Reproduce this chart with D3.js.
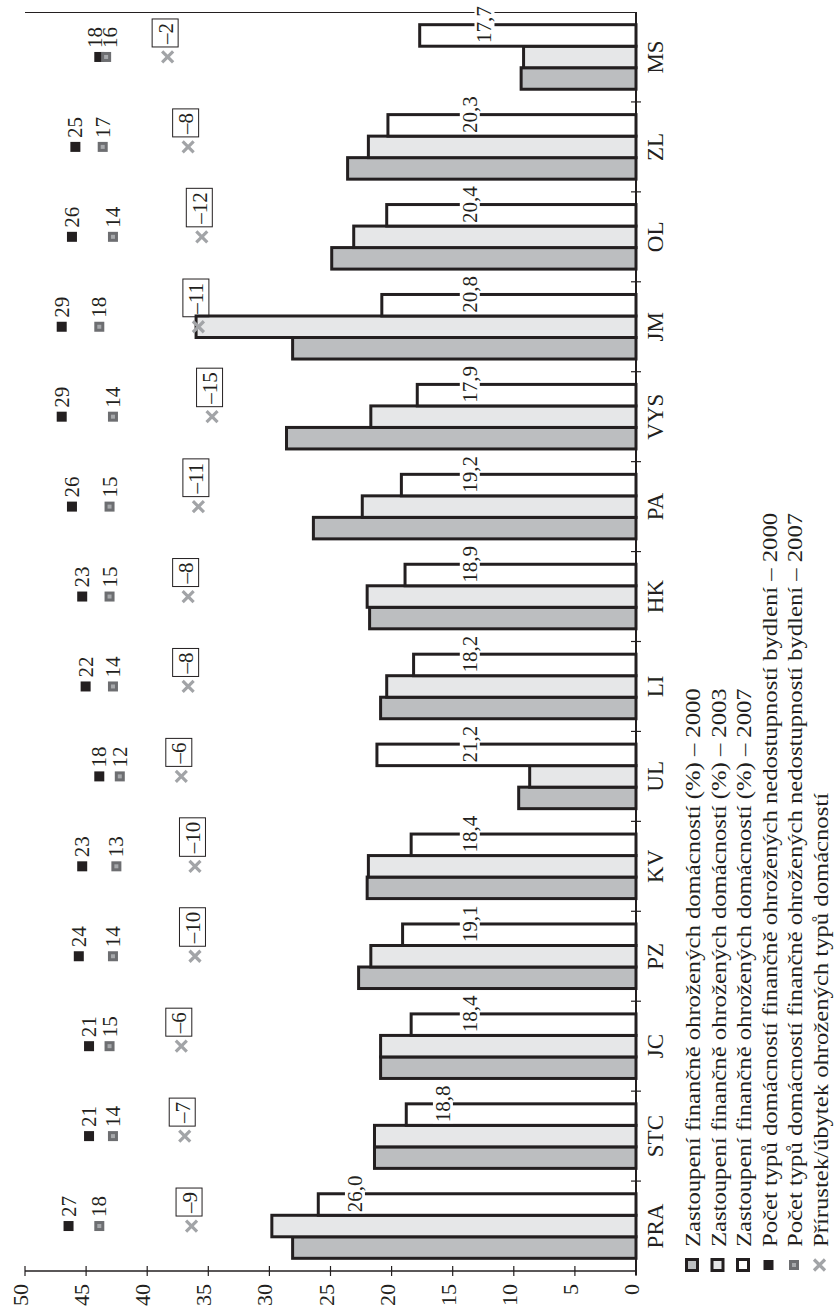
<!DOCTYPE html>
<html><head><meta charset="utf-8">
<script src="https://cdn.jsdelivr.net/npm/d3@7/dist/d3.min.js"></script>
<style>html,body{margin:0;padding:0;background:#fff;}svg{display:block;}</style>
</head><body>
<script>
const categories = ["PRA","STC","JC","PZ","KV","UL","LI","HK","PA","VYS","JM","OL","ZL","MS"];
const share2000 = [28.1,21.4,20.9,22.7,22.0,9.6,20.9,21.8,26.4,28.6,28.1,24.9,23.6,9.4];
const share2003 = [29.8,21.4,20.9,21.7,21.9,8.7,20.4,22.0,22.4,21.7,36.0,23.1,21.9,9.2];
const share2007 = [26.0,18.8,18.4,19.1,18.4,21.2,18.2,18.9,19.2,17.9,20.8,20.4,20.3,17.7];
const count2000 = [27,21,21,24,23,18,22,23,26,29,29,26,25,18];
const count2007 = [18,14,15,14,13,12,14,15,15,14,18,14,17,16];
const change = [-9,-7,-6,-10,-10,-6,-8,-8,-11,-15,-11,-12,-8,-2];
const valueTicks = [0,5,10,15,20,25,30,35,40,45,50];
const legendLabels = [
  "Zastoupení finančně ohrožených domácností (%) – 2000",
  "Zastoupení finančně ohrožených domácností (%) – 2003",
  "Zastoupení finančně ohrožených domácností (%) – 2007",
  "Počet typů domácností finančně ohrožených nedostupností bydlení – 2000",
  "Počet typů domácností finančně ohrožených nedostupností bydlení – 2007",
  "Přírustek/úbytek ohrožených typů domácností"
];

const W = 834, H = 1307;
const FONT = "'Liberation Serif', 'DejaVu Serif', serif";
const INK = "#231f20";
const C2000 = "#bcbec0", C2003 = "#e6e7e8", C2007 = "#ffffff";
const CSQ = "#6d6e71", CSQIN = "#a7a9ac", CX = "#a2a4a7";

const svg = d3.select("body").append("svg").attr("width", W).attr("height", H)
  .style("font-family", FONT);

const x = d3.scaleLinear().domain([0, 50]).range([636, 25]);
const y = d3.scaleBand().domain(categories).range([1271, 12]);
const bw = y.bandwidth();
const seriesKeys = ["s2000","s2003","s2007"];
const x1 = d3.scaleBand().domain(seriesKeys).range([bw, 0]).paddingOuter(0.59).paddingInner(0);
// secondary scale for counts / change (not drawn)
const xc = d3.scaleLinear().domain([0, 27]).range([160.8, 160.8 - 27 * 3.417]);

const rows = categories.map((c, i) => ({
  cat: c, s2000: share2000[i], s2003: share2003[i], s2007: share2007[i],
  c2000: count2000[i], c2007: count2007[i], ch: change[i]
}));
const fills = {s2000: C2000, s2003: C2003, s2007: C2007};
const fmt = v => v.toFixed(1).replace(".", ",");
const fmtInt = v => (v < 0 ? "–" + Math.abs(v) : String(v));

// top frame line
svg.append("line").attr("x1", x(50)).attr("x2", x(0)).attr("y1", 12.5).attr("y2", 12.5)
  .attr("stroke", INK).attr("stroke-width", 1.2);

// bars
const g = svg.append("g");
rows.forEach(r => {
  seriesKeys.forEach(k => {
    g.append("rect")
      .attr("x", x(r[k])).attr("width", x(0) - x(r[k]))
      .attr("y", y(r.cat) + x1(k)).attr("height", x1.bandwidth())
      .attr("fill", fills[k]).attr("stroke", INK).attr("stroke-width", 3);
  });
});

// 2007 value labels
const labelAt = {PRA: 23.0, STC: 15.8, MS: 12.4};
rows.forEach(r => {
  const lx = x(labelAt[r.cat] !== undefined ? labelAt[r.cat] : 13.6);
  const ly = y(r.cat) + x1("s2007");
  const lg = svg.append("g").attr("transform", `translate(${lx},${ly}) rotate(-90)`);
  const t = lg.append("text").attr("text-anchor", "middle").attr("y", 7)
    .attr("font-size", 21).attr("fill", INK).text(fmt(r.s2007));
  const bb = t.node().getBBox();
  lg.insert("rect", "text").attr("x", bb.x - 1).attr("width", bb.width + 2)
    .attr("y", -10).attr("height", 20).attr("fill", "#fff");
});

// axes lines
svg.append("line").attr("x1", x(0)).attr("x2", x(0)).attr("y1", 12).attr("y2", 1275)
  .attr("stroke", INK).attr("stroke-width", 2);
svg.append("line").attr("x1", x(50)).attr("x2", x(0)).attr("y1", 1271).attr("y2", 1271)
  .attr("stroke", INK).attr("stroke-width", 1.5);

// value ticks
valueTicks.forEach(v => {
  svg.append("line").attr("x1", x(v)).attr("x2", x(v)).attr("y1", 1266).attr("y2", 1276)
    .attr("stroke", INK).attr("stroke-width", 1.2);
  svg.append("text").attr("transform", `translate(${x(v) + 3},1284) rotate(-90)`)
    .attr("text-anchor", "end").attr("font-size", 22).attr("fill", INK).text(v);
});

// category ticks (band boundaries) and labels
categories.forEach((c, i) => {
  if (i === 0) return;
  const yy = y(c) + bw;
  svg.append("line").attr("x1", 631).attr("x2", 641).attr("y1", yy).attr("y2", yy)
    .attr("stroke", INK).attr("stroke-width", 1.2);
});
rows.forEach(r => {
  svg.append("text").attr("transform", `translate(663,${y(r.cat) + bw / 2}) rotate(-90)`)
    .attr("text-anchor", "middle").attr("font-size", 23).attr("fill", INK).text(r.cat);
});

// markers
function blackSq(sel, cx, cy) {
  sel.append("rect").attr("x", cx - 5).attr("y", cy - 5).attr("width", 10).attr("height", 10).attr("fill", INK);
}
function graySq(sel, cx, cy) {
  sel.append("rect").attr("x", cx - 5).attr("y", cy - 5).attr("width", 10).attr("height", 10).attr("fill", CSQ);
  sel.append("rect").attr("x", cx - 2).attr("y", cy - 2).attr("width", 4).attr("height", 4).attr("fill", CSQIN);
}
function cross(sel, cx, cy) {
  const s = 5.5;
  sel.append("path").attr("d", `M${cx - s},${cy - s}L${cx + s},${cy + s}M${cx - s},${cy + s}L${cx + s},${cy - s}`)
    .attr("stroke", CX).attr("stroke-width", 3.2).attr("fill", "none");
}

const nudge = {MS: [-4, 4]};
const mg = svg.append("g");
rows.forEach(r => {
  const cy = y(r.cat) + bw / 2;
  const bx = xc(r.c2000), gx = xc(r.c2007), cx = xc(r.ch);
  blackSq(mg, bx, cy);
  graySq(mg, gx, cy);
  cross(mg, cx, cy);
  const n = nudge[r.cat] || [0, 0];
  mg.append("text").attr("transform", `translate(${bx + 7 + n[0]},${cy - 9}) rotate(-90)`)
    .attr("font-size", 21).attr("fill", INK).text(r.c2000);
  mg.append("text").attr("transform", `translate(${gx + 7 + n[1]},${cy - 9}) rotate(-90)`)
    .attr("font-size", 21).attr("fill", INK).text(r.c2007);
  const bg = mg.append("g").attr("transform", `translate(${cx},${cy - 10}) rotate(-90)`);
  const t = bg.append("text").attr("x", 3).attr("y", 5).attr("font-size", 21).attr("fill", INK).text(fmtInt(r.ch));
  const bb = t.node().getBBox();
  bg.append("rect").attr("x", 0).attr("y", -15.5).attr("width", bb.width + 6).attr("height", 26)
    .attr("fill", "none").attr("stroke", INK).attr("stroke-width", 1);
});

// legend
const lgX0 = 692, lgStep = 25.5, lgY = 1265;
const lgTexts = [];
legendLabels.forEach((lab, i) => {
  const cx = lgX0 + i * lgStep;
  if (i < 3) {
    svg.append("rect").attr("x", cx - 5.5).attr("y", lgY - 5.5).attr("width", 11).attr("height", 11)
      .attr("fill", [C2000, C2003, C2007][i]).attr("stroke", INK).attr("stroke-width", 3);
  } else if (i === 3) blackSq(svg, cx, lgY);
  else if (i === 4) graySq(svg, cx, lgY);
  else cross(svg, cx, lgY);
  const tg = svg.append("g").attr("transform", `translate(${cx + 8},1247) rotate(-90)`);
  lgTexts.push(tg.append("text").attr("font-size", 22).attr("fill", INK).text(lab));
});
// stretch legend text to the wider face of the original typesetting
const stretch = 559 / lgTexts[0].node().getComputedTextLength();
lgTexts.forEach(t => t.attr("transform", `scale(${stretch},1)`));
</script>
</body></html>
